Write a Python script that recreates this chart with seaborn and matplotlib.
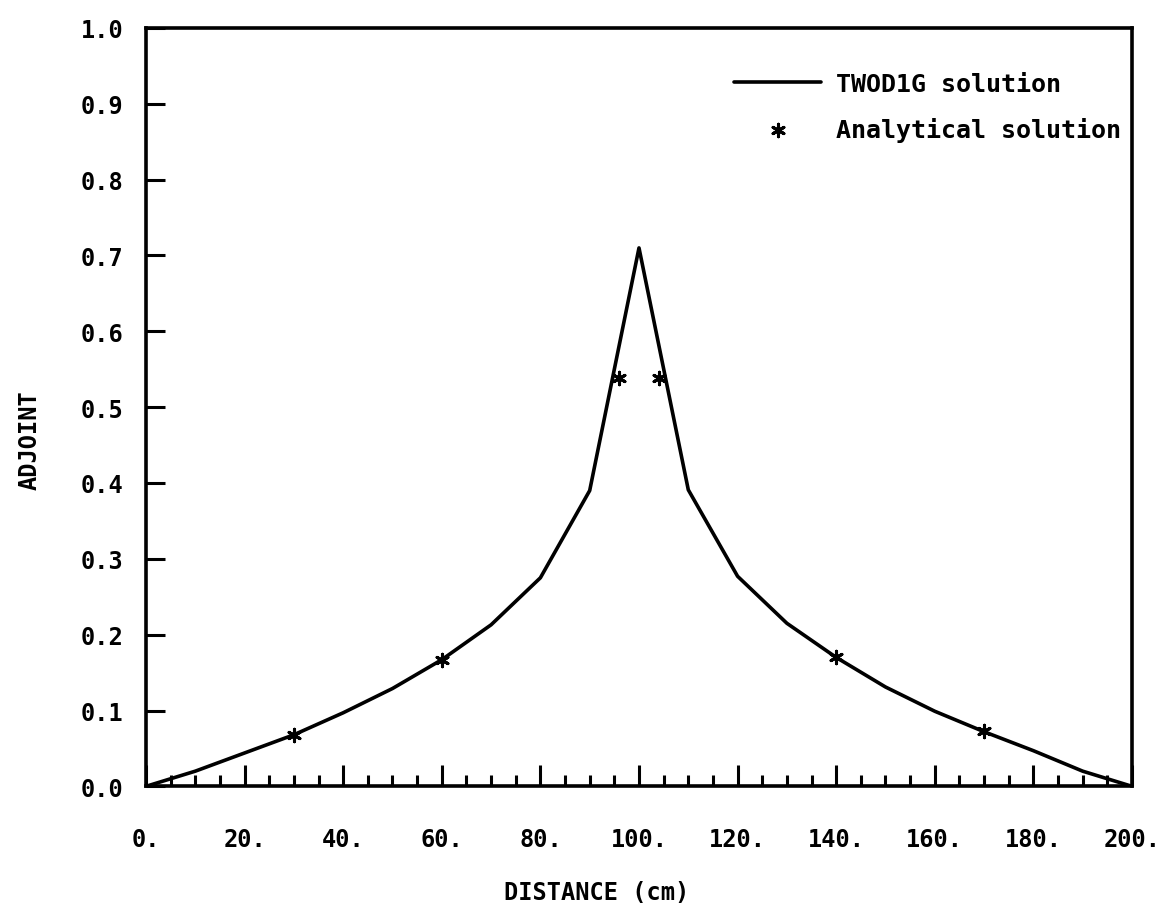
import matplotlib
matplotlib.use("Agg")
import matplotlib.pyplot as plt
from matplotlib.ticker import MultipleLocator, FixedLocator
import seaborn as sns
import pandas as pd

# TWOD1G solution (piecewise linear, 10 cm mesh)
distance = [0, 10, 20, 30, 40, 50, 60, 70, 80, 90, 100,
            110, 120, 130, 140, 150, 160, 170, 180, 190, 200]
adjoint = [0.0, 0.020, 0.044, 0.068, 0.097, 0.129, 0.167, 0.213, 0.275, 0.390, 0.710,
           0.391, 0.277, 0.215, 0.170, 0.131, 0.099, 0.072, 0.047, 0.020, 0.0]

# Analytical solution points
ana_x = [30, 60, 96, 104, 140, 170]
ana_y = [0.068, 0.167, 0.538, 0.538, 0.170, 0.073]

x_ticks = [0, 20, 40, 60, 80, 100, 120, 140, 160, 180, 200]
x_tick_labels = ["0.", "20.", "40.", "60.", "80.", "100.", "120.", "140.", "160.", "180.", "200."]
y_ticks = [0.0, 0.1, 0.2, 0.3, 0.4, 0.5, 0.6, 0.7, 0.8, 0.9, 1.0]
y_tick_labels = ["0.0", "0.1", "0.2", "0.3", "0.4", "0.5", "0.6", "0.7", "0.8", "0.9", "1.0"]

sns.set_theme(style="ticks")
plt.rcParams["font.family"] = ["DejaVu Sans Mono", "DejaVu Sans"]
plt.rcParams["font.weight"] = "bold"
plt.rcParams["text.color"] = "black"
plt.rcParams["axes.labelcolor"] = "black"
plt.rcParams["xtick.color"] = "black"
plt.rcParams["ytick.color"] = "black"
plt.rcParams["xtick.labelcolor"] = "black"
plt.rcParams["ytick.labelcolor"] = "black"

fig = plt.figure(figsize=(11.67, 9.2), dpi=100)
ax = fig.add_axes([0.1251, 0.1442, 0.8449, 0.8243])

line_df = pd.DataFrame({"x": distance, "y": adjoint})
pts_df = pd.DataFrame({"x": ana_x, "y": ana_y})

sns.lineplot(data=line_df, x="x", y="y", ax=ax, color="black", linewidth=2.6,
             label="TWOD1G solution", sort=False)
sns.scatterplot(data=pts_df, x="x", y="y", ax=ax, color="black", marker=(6, 2, 0),
                s=80, linewidth=2.2, label="Analytical solution", zorder=5)

ax.set_xlim(0, 200)
ax.set_ylim(0, 1.0)

ax.xaxis.set_major_locator(FixedLocator(x_ticks))
ax.set_xticklabels(x_tick_labels)
ax.xaxis.set_minor_locator(MultipleLocator(5))
ax.yaxis.set_major_locator(FixedLocator(y_ticks))
ax.set_yticklabels(y_tick_labels)

ax.tick_params(axis="x", which="major", direction="in", length=15, width=2.2,
               pad=29, labelsize=17, color="black", labelcolor="black", top=False)
ax.tick_params(axis="x", which="minor", direction="in", length=8, width=2.2,
               color="black", top=False)
ax.tick_params(axis="y", which="major", direction="in", length=14, width=2.2,
               pad=16, labelsize=17, color="black", labelcolor="black", right=False)
ax.tick_params(axis="y", which="minor", left=False, right=False)

for lbl in ax.get_xticklabels() + ax.get_yticklabels():
    lbl.set_fontweight("bold")

for s in ax.spines.values():
    s.set_visible(True)
    s.set_linewidth(2.6)
    s.set_color("black")

ax.set_xlabel("DISTANCE (cm)", fontsize=17, fontweight="bold", color="black")
ax.set_ylabel("ADJOINT", fontsize=17, fontweight="bold", color="black")
ax.xaxis.set_label_coords(0.457, -0.124)
ax.yaxis.set_label_coords(-0.106, 0.458)

leg = ax.legend(loc="upper right", bbox_to_anchor=(1.012, 0.972), frameon=False,
                fontsize=18, handlelength=3.5, handletextpad=0.6,
                labelspacing=0.85, markerscale=1.0)
for t in leg.get_texts():
    t.set_fontweight("bold")
    t.set_color("black")

fig.savefig("out.png", dpi=100, facecolor="white")
